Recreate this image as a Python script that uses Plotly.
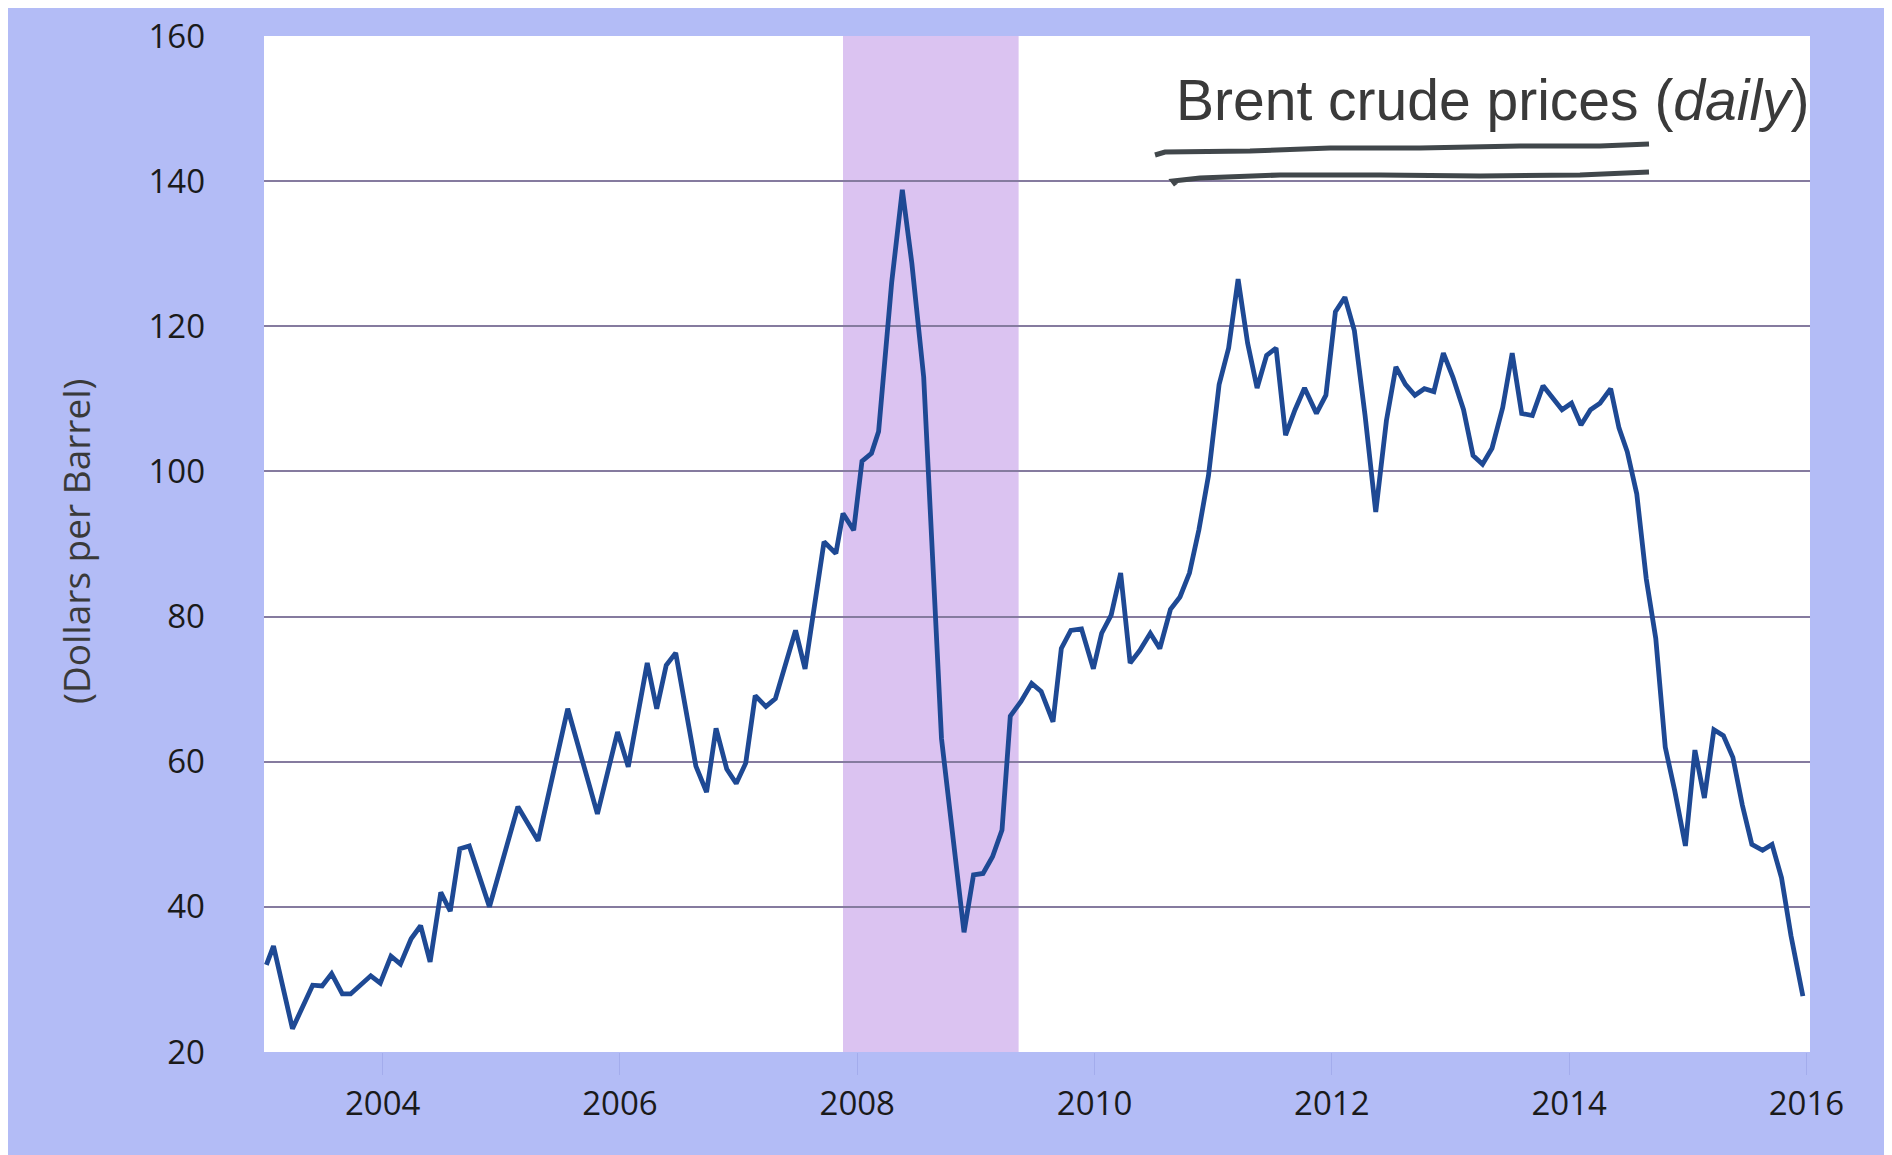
import plotly.graph_objects as go

# ---- data (decimal year, USD per barrel) ----
years = [2003.02, 2003.08, 2003.24, 2003.41, 2003.49, 2003.57, 2003.66, 2003.73, 2003.90, 2003.98,
         2004.07, 2004.15, 2004.24, 2004.32, 2004.40, 2004.49, 2004.57, 2004.65, 2004.73, 2004.90,
         2005.14, 2005.31, 2005.56, 2005.81, 2005.98, 2006.07, 2006.23, 2006.31, 2006.39, 2006.47,
         2006.64, 2006.73, 2006.81, 2006.90, 2006.98, 2007.06, 2007.14, 2007.23, 2007.31, 2007.48,
         2007.56, 2007.72, 2007.82, 2007.88, 2007.97, 2008.04, 2008.12, 2008.18, 2008.29, 2008.38,
         2008.46, 2008.56, 2008.71, 2008.90, 2008.98, 2009.06, 2009.14, 2009.22, 2009.29, 2009.38,
         2009.47, 2009.55, 2009.65, 2009.72, 2009.80, 2009.89, 2009.99, 2010.06, 2010.14, 2010.22,
         2010.30, 2010.38, 2010.47, 2010.55, 2010.64, 2010.72, 2010.80, 2010.88, 2010.96, 2011.05,
         2011.13, 2011.21, 2011.29, 2011.37, 2011.45, 2011.53, 2011.61, 2011.69, 2011.77, 2011.87,
         2011.95, 2012.03, 2012.11, 2012.19, 2012.28, 2012.37, 2012.46, 2012.54, 2012.62, 2012.70,
         2012.78, 2012.86, 2012.94, 2013.02, 2013.11, 2013.19, 2013.27, 2013.35, 2013.44, 2013.52,
         2013.60, 2013.69, 2013.78, 2013.86, 2013.94, 2014.02, 2014.10, 2014.18, 2014.26, 2014.35,
         2014.42, 2014.49, 2014.57, 2014.65, 2014.73, 2014.81, 2014.89, 2014.98, 2015.06, 2015.14,
         2015.22, 2015.30, 2015.38, 2015.46, 2015.54, 2015.63, 2015.71, 2015.79, 2015.87, 2015.97]

prices = [32.0, 34.6, 23.2, 29.2, 29.1, 30.8, 28.0, 28.0, 30.5, 29.5,
          33.2, 32.1, 35.6, 37.4, 32.4, 42.0, 39.4, 48.0, 48.4, 40.0,
          53.8, 49.1, 67.3, 52.8, 64.1, 59.3, 73.6, 67.3, 73.3, 75.0,
          59.4, 55.8, 64.6, 59.0, 57.0, 59.8, 69.1, 67.6, 68.7, 78.1,
          72.8, 90.3, 88.7, 94.2, 91.9, 101.4, 102.5, 105.5, 126.0, 138.8,
          128.7, 113.0, 63.2, 36.5, 44.4, 44.6, 46.9, 50.6, 66.3, 68.3,
          70.8, 69.7, 65.5, 75.6, 78.1, 78.3, 72.8, 77.7, 80.2, 86.0,
          73.6, 75.3, 77.7, 75.6, 81.0, 82.7, 86.0, 92.0, 99.4, 112.0,
          117.0, 126.5, 117.7, 111.5, 116.0, 117.0, 105.0, 108.5, 111.5, 108.0,
          110.5, 122.0, 124.0, 119.4, 107.7, 94.4, 107.0, 114.4, 112.0, 110.5,
          111.4, 111.0, 116.3, 113.0, 108.5, 102.2, 101.0, 103.2, 108.8, 116.3,
          108.0, 107.7, 111.8, 110.2, 108.5, 109.4, 106.4, 108.5, 109.4, 111.4,
          106.0, 102.7, 96.9, 85.2, 77.0, 62.0, 56.0, 48.4, 61.6, 55.0,
          64.4, 63.6, 60.6, 54.0, 48.6, 47.8, 48.6, 44.0, 36.0, 27.7]

recession = [2007.88, 2009.36]
x_ticks = [2004, 2006, 2008, 2010, 2012, 2014, 2016]
x_tick_labels = ["2004", "2006", "2008", "2010", "2012", "2014", "2016"]
y_ticks = [20, 40, 60, 80, 100, 120, 140, 160]
y_tick_labels = ["20", "40", "60", "80", "100", "120", "140", "160"]
title_text = "Brent crude prices (<i>daily</i>)"
y_title = "(Dollars per Barrel)"

# ---- styling ----
OFF = 8                      # page body margin
W, H = 1880, 1147            # figure size
L, R, T, B = 256, 78, 28, 103
pw, ph = W - L - R, H - T - B
BLUE_BG = "#b3bcf6"
SHADE = "#dbc3f1"
LINE = "#1e4994"
GRID = "#857b9f"


def px(X):
    """page pixel x -> paper fraction"""
    return (X - OFF - L) / pw


def py(Y):
    """page pixel y -> paper fraction"""
    return (H - B - (Y - OFF)) / ph


fig = go.Figure()
fig.add_trace(go.Scatter(x=years, y=prices, mode="lines",
                         line=dict(color=LINE, width=4.8), hoverinfo="skip",
                         showlegend=False))

shapes = [
    # recession band
    dict(type="rect", xref="x", yref="paper", x0=recession[0], x1=recession[1], y0=0, y1=1,
         fillcolor=SHADE, line=dict(width=0), layer="below"),
]


def path(pts):
    return "M " + " L ".join(f"{px(a):.5f},{py(b):.5f}" for a, b in pts)


# hand-drawn underlines below the title (page pixel positions)
ul1 = [(1155, 155), (1165, 152), (1250, 151), (1330, 148), (1420, 148), (1520, 146), (1600, 146), (1649, 144)]
ul2 = [(1176, 185), (1173, 181), (1200, 178), (1280, 175), (1380, 175), (1480, 176), (1580, 175), (1649, 172)]
for pts in (ul1, ul2):
    shapes.append(dict(type="path", xref="paper", yref="paper", path=path(pts),
                       line=dict(color="#41474b", width=5)))

fig.update_layout(
    width=W, height=H,
    margin=dict(l=L, r=R, t=T, b=B, autoexpand=False),
    paper_bgcolor=BLUE_BG,
    plot_bgcolor="white",
    shapes=shapes,
    font=dict(family="Open Sans", color="#1a1a1a", size=33),
    xaxis=dict(range=[2003.0, 2016.03], tickmode="array", tickvals=x_ticks, ticktext=x_tick_labels,
               showgrid=False, zeroline=False, showline=False,
               ticks="outside", ticklen=22, tickwidth=1, tickcolor="#a3acec",
               tickfont=dict(family="Open Sans", size=33, color="#1a1a1a"),
               ticklabelstandoff=0),
    yaxis=dict(range=[20, 160], tickmode="array", tickvals=y_ticks, ticktext=y_tick_labels,
               showgrid=True, gridcolor=GRID, gridwidth=2, zeroline=False, showline=False,
               ticks="", tickfont=dict(family="Open Sans", size=33, color="#1a1a1a"),
               ticklabelstandoff=58),
    annotations=[
        dict(text=title_text, xref="paper", yref="paper", x=px(1812), y=py(100),
             xanchor="right", yanchor="middle", showarrow=False,
             font=dict(family="Liberation Sans", size=57, color="#3a3a3a")),
        dict(text=y_title, xref="paper", yref="paper", x=px(75), y=py(541),
             xanchor="center", yanchor="middle", textangle=-90, showarrow=False,
             font=dict(family="Open Sans", size=37, color="#3a3a3a")),
    ],
)

fig.write_html("out.html")
